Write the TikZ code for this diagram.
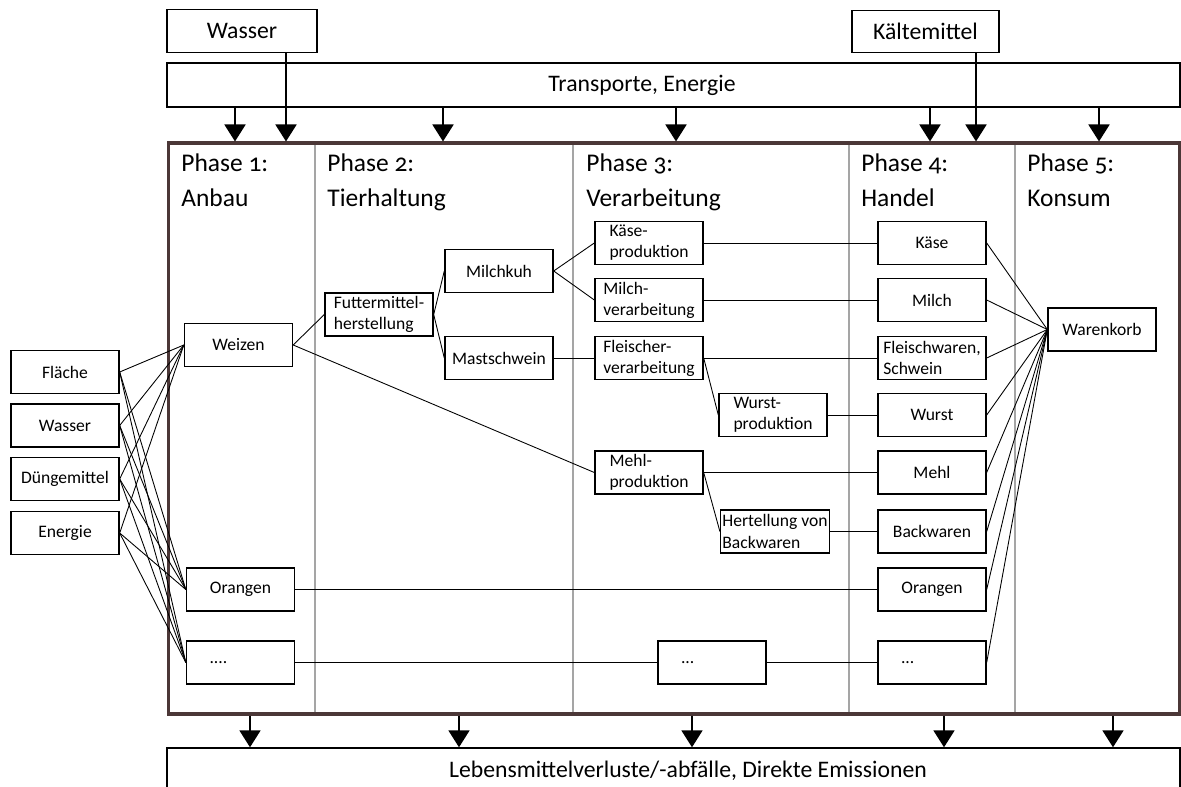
\documentclass[tikz,border=0pt]{standalone}
\usepackage{fontspec}
\setmainfont{Carlito}[Numbers=OldStyle]
\usetikzlibrary{arrows.meta}
\definecolor{rahmenfarbe}{RGB}{75,55,55}
\definecolor{trennfarbe}{RGB}{165,165,165}
\tikzset{
  kasten/.style={draw, line width=.8pt, minimum width=2.16cm, minimum height=.86cm,
    inner sep=1pt, align=left, font=\fontsize{10}{12}\selectfont},
  punkte/.style={kasten, text width=1.24cm, inner xsep=.46cm},
  oben/.style={draw, line width=.8pt, minimum height=.85cm, font=\fontsize{13.5}{16}\selectfont},
  balken/.style={draw, line width=.8pt, minimum width=20.26cm, minimum height=.88cm, inner sep=0},
  balkentext/.style={font=\fontsize{13.5}{16}\selectfont, inner sep=0},
  rahmen/.style={draw=rahmenfarbe, line width=1.8pt, minimum width=20.24cm, minimum height=11.42cm, inner sep=0},
  trenner/.style={draw=trennfarbe, line width=.6pt},
  phase/.style={anchor=base west, inner sep=0, align=left, font=\fontsize{14.5}{20}\selectfont},
  fluss/.style={->, line width=1.1pt},
  verbindung/.style={line width=.5pt}
}
\newcommand\PhaseTitel[3]{
  \node[phase] (#1) at (#2) {#3};
}

\begin{document}
\begin{tikzpicture}[x=.02cm, y=-.02cm, >={Triangle[length=.34cm, width=.42cm]}]
  \clip (0,0) rectangle (1181,787);
  \node[balken] (transport) at (673.5,85) {};
  \node[balkentext] (transporttext) at (642,85) {Transporte, Energie};
  \node[oben, minimum width=3cm] (wasseroben) at (242,31) {Wasser};
  \node[oben, minimum width=2.94cm] (kaelte) at (925.5,31.5) {Kältemittel};
  \foreach \x in {315,573,849,1015}
    \draw[trenner] (\x,143) -- (\x,714);
  \node[rahmen] (phasen) at (674,428.5) {};
  \node[balken] (verlust) at (673.5,770) {};
  \node[balkentext, anchor=base] (verlusttext) at (688,777)
    {Lebensmittelverluste/-abfälle, Direkte Emissionen};

  \foreach \x in {235,443,676,930,1099} {
    \coordinate (t) at (\x,0);
    \draw[fluss] (transport.south -| t) -- (phasen.north -| t);
  }
  \coordinate (w) at (286,0);
  \draw[fluss] (wasseroben.south -| w) -- (phasen.north -| w);
  \coordinate (k) at (976,0);
  \draw[fluss] (kaelte.south -| k) -- (phasen.north -| k);
  \foreach \x in {250,459,692,944,1113} {
    \coordinate (v) at (\x,0);
    \draw[fluss] (phasen.south -| v) -- (verlust.north -| v);
  }

  \PhaseTitel{ph1}{181,207}{Phase 1:\\Anbau}
  \PhaseTitel{ph2}{327,207}{Phase 2:\\Tierhaltung}
  \PhaseTitel{ph3}{586,207}{Phase 3:\\Verarbeitung}
  \PhaseTitel{ph4}{861,207}{Phase 4:\\Handel}
  \PhaseTitel{ph5}{1027,207}{Phase 5:\\Konsum}

  \node[kasten] (flaeche) at (65,372) {Fläche};
  \node[kasten] (wasser) at (65,425.5) {Wasser};
  \node[kasten] (duenger) at (65,479) {Düngemittel};
  \node[kasten] (energie) at (65,533) {Energie};

  \node[kasten] (weizen) at (238.5,345) {Weizen};
  \node[kasten] (orangenA) at (240.5,589.5) {Orangen};
  \node[punkte] (punkteA) at (240.5,662.5) {....};

  \node[kasten] (futter) at (379,314.5) {Futtermittel-\\herstellung};
  \node[kasten] (milchkuh) at (499,271) {Milchkuh};
  \node[kasten] (mast) at (499,358) {Mastschwein};

  \node[kasten] (kaeseprod) at (649,243) {Käse-\\produktion};
  \node[kasten] (milchverarb) at (649,300) {Milch-\\verarbeitung};
  \node[kasten] (fleischer) at (649,358) {Fleischer-\\verarbeitung};
  \node[kasten] (wurstprod) at (773,415) {Wurst-\\produktion};
  \node[kasten] (mehlprod) at (649,472.5) {Mehl-\\produktion};
  \node[kasten] (backprod) at (775,531.5) {Hertellung von\\Backwaren};
  \node[punkte] (punkteB) at (712,662.5) {...};

  \node[kasten] (kaese) at (932,243) {Käse};
  \node[kasten] (milch) at (932,300) {Milch};
  \node[kasten] (fleisch) at (932,358) {Fleischwaren,\\Schwein};
  \node[kasten] (wurst) at (932,415) {Wurst};
  \node[kasten] (mehl) at (932,472.5) {Mehl};
  \node[kasten] (back) at (932,531.5) {Backwaren};
  \node[kasten] (orangenB) at (932,589.5) {Orangen};
  \node[punkte] (punkteC) at (932,662.5) {...};

  \node[kasten] (korb) at (1102,329.5) {Warenkorb};

  \foreach \q in {flaeche,wasser,duenger,energie}
    \foreach \z in {weizen,orangenA,punkteA}
      \draw[verbindung] (\q.east) -- (\z.west);
  \draw[verbindung] (weizen.east) -- (futter.west);
  \draw[verbindung] (weizen.east) -- (mehlprod.west);
  \draw[verbindung] (futter.east) -- (milchkuh.west);
  \draw[verbindung] (futter.east) -- (mast.west);
  \draw[verbindung] (milchkuh.east) -- (kaeseprod.west);
  \draw[verbindung] (milchkuh.east) -- (milchverarb.west);
  \draw[verbindung] (mast.east) -- (fleischer.west);
  \draw[verbindung] (kaeseprod.east) -- (kaese.west);
  \draw[verbindung] (milchverarb.east) -- (milch.west);
  \draw[verbindung] (fleischer.east) -- (fleisch.west);
  \draw[verbindung] (fleischer.east) -- (wurstprod.west);
  \draw[verbindung] (wurstprod.east) -- (wurst.west);
  \draw[verbindung] (mehlprod.east) -- (mehl.west);
  \draw[verbindung] (mehlprod.east) -- (backprod.west);
  \draw[verbindung] (backprod.east) -- (back.west);
  \draw[verbindung] (orangenA.east) -- (orangenB.west);
  \draw[verbindung] (punkteA.east) -- (punkteB.west);
  \draw[verbindung] (punkteB.east) -- (punkteC.west);
  \foreach \h in {kaese,milch,fleisch,wurst,mehl,back,orangenB,punkteC}
    \draw[verbindung] (\h.east) -- (korb.west);
\end{tikzpicture}
\end{document}
